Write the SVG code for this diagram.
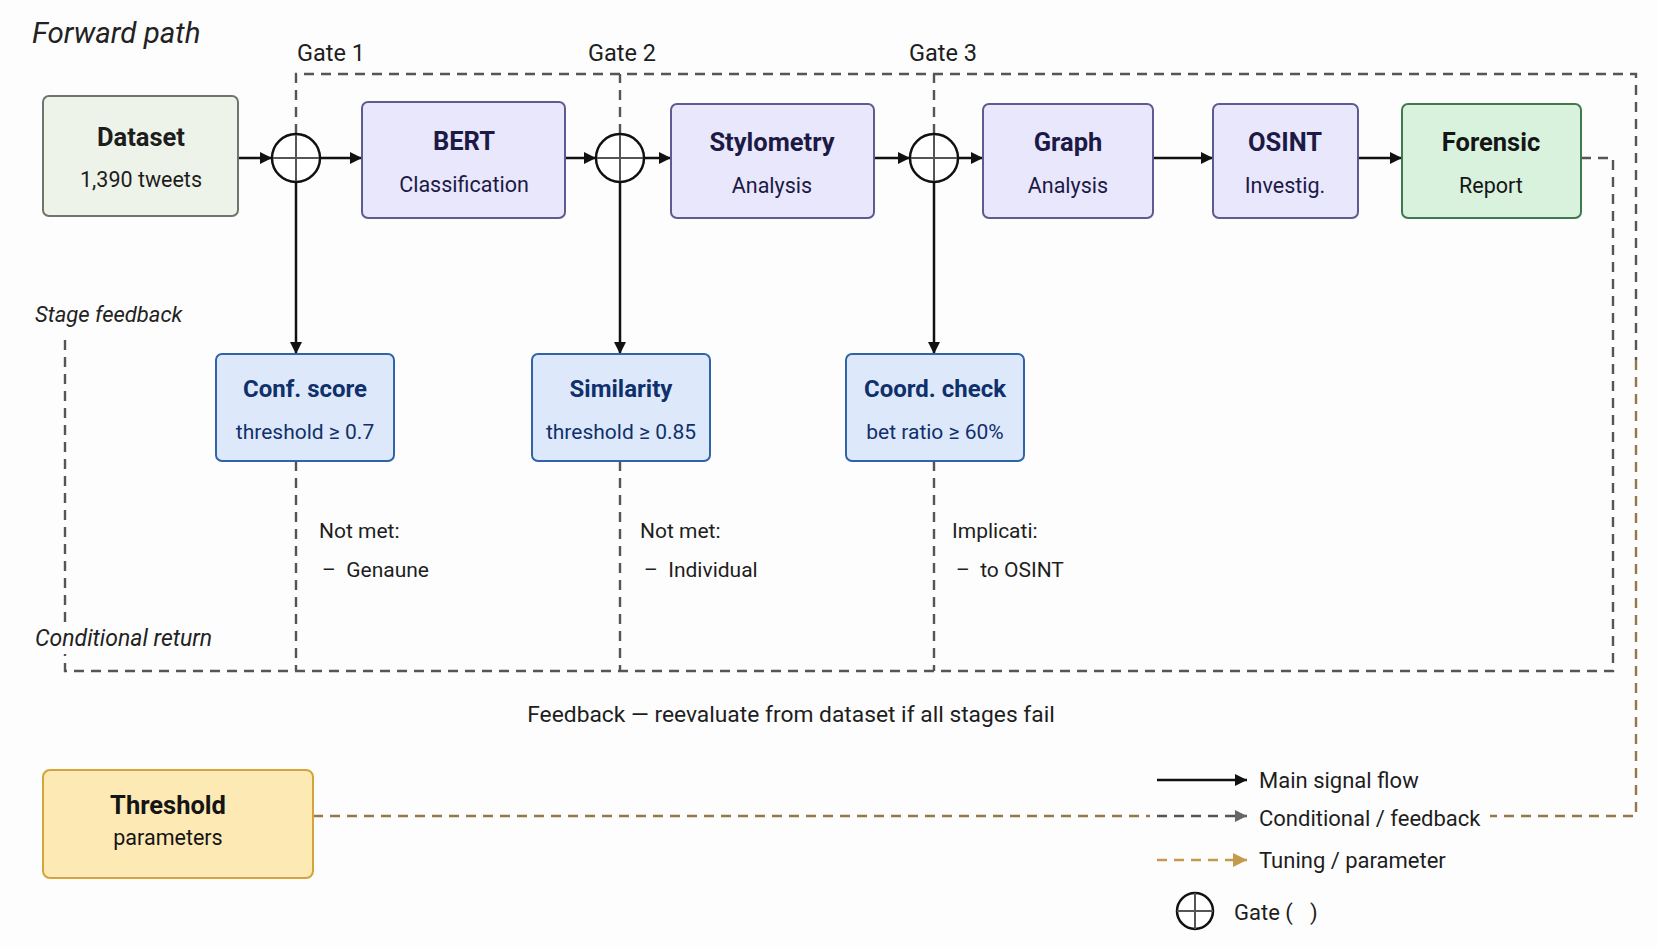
<svg xmlns="http://www.w3.org/2000/svg" width="1657" height="949" viewBox="0 0 1657 949">
<style>
text{font-family:Roboto,"Liberation Sans",sans-serif;}
.t{font-weight:700;font-size:25.5px;text-anchor:middle;}
.s{font-size:21.5px;text-anchor:middle;}
.ct{font-weight:700;font-size:24px;text-anchor:middle;fill:#10306b;}
.cs{font-size:21px;text-anchor:middle;fill:#10306b;}
.lbl{font-size:21px;fill:#1e1e1e;}
.gl{font-size:23.5px;fill:#1e1e1e;}
.fb{font-size:22.8px;fill:#1e1e1e;text-anchor:middle;}
.lg{font-size:22px;fill:#1e1e1e;}
.it{font-style:italic;fill:#222;}
.main{fill:none;stroke:#111;stroke-width:2.5;}
.dash{fill:none;stroke:#555;stroke-width:2.4;stroke-dasharray:10 7;}
.brown{fill:none;stroke:#94774a;stroke-width:2.4;stroke-dasharray:10 7;}
.gold{fill:none;stroke:#c59a4d;stroke-width:2.4;stroke-dasharray:10 7;}
.purple rect{fill:#e9e7fb;stroke:#5e5a92;stroke-width:2;}
.purple text.t{fill:#1c1a45;}
.purple text.s{fill:#1c1a45;}
.check rect{fill:#dde9fb;stroke:#2f64a8;stroke-width:2;}
.gate circle{fill:#fff;stroke:#111;stroke-width:2.5;}
.gate line{stroke:#555;stroke-width:2;}
</style>
<defs>
<marker id="ah" viewBox="0 0 10 10" refX="10" refY="5" markerWidth="5" markerHeight="5" orient="auto" markerUnits="strokeWidth"><path d="M0,0 L10,5 L0,10 Z" fill="#111"/></marker>
<marker id="ahg" viewBox="0 0 10 10" refX="10" refY="5" markerWidth="5" markerHeight="5" orient="auto" markerUnits="strokeWidth"><path d="M0,0 L10,5 L0,10 Z" fill="#666"/></marker>
<marker id="ahy" viewBox="0 0 10 10" refX="10" refY="5" markerWidth="6" markerHeight="6" orient="auto" markerUnits="strokeWidth"><path d="M0,0 L10,5 L0,10 Z" fill="#c59a4d"/></marker>
<marker id="tiny" viewBox="0 0 10 10" refX="10" refY="5" markerWidth="3" markerHeight="3" orient="auto" markerUnits="strokeWidth"><path d="M0,0 L10,5 L0,10 Z" fill="#555"/></marker>
</defs>
<rect width="1657" height="949" fill="#fdfdfd"/>

<text class="it" x="32" y="43" font-size="29.5">Forward path</text>
<text class="it" x="35" y="322" font-size="22">Stage feedback</text>
<text class="gl" x="297" y="61">Gate 1</text>
<text class="gl" x="588" y="61">Gate 2</text>
<text class="gl" x="909" y="61">Gate 3</text>

<g id="connectors">
  <!-- top feedback loop -->
  <path class="dash" d="M296,134 V74 H1636 V360" marker-start="url(#tiny)"/>
  <path class="dash" d="M620,134 V74"/>
  <path class="dash" d="M934,134 V74"/>
  <path class="brown" d="M1636,360 V816 H1490"/>
  <path class="brown" d="M313,816 H1150"/>
  <!-- bottom feedback loop -->
  <path class="dash" d="M1581,158 H1613 V671 H65 V338"/>
  <path class="dash" d="M296,461 V671" marker-start="url(#tiny)"/>
  <path class="dash" d="M620,461 V671" marker-start="url(#tiny)"/>
  <path class="dash" d="M934,461 V671" marker-start="url(#tiny)"/>
  <!-- main flow -->
  <path class="main" d="M238,158 H272" marker-end="url(#ah)"/>
  <path class="main" d="M320,158 H362" marker-end="url(#ah)"/>
  <path class="main" d="M565,158 H596" marker-end="url(#ah)"/>
  <path class="main" d="M644,158 H671" marker-end="url(#ah)"/>
  <path class="main" d="M874,158 H910" marker-end="url(#ah)"/>
  <path class="main" d="M958,158 H983" marker-end="url(#ah)"/>
  <path class="main" d="M1153,158 H1213" marker-end="url(#ah)"/>
  <path class="main" d="M1358,158 H1402" marker-end="url(#ah)"/>
  <path class="main" d="M296,182 V354" marker-end="url(#ah)"/>
  <path class="main" d="M620,182 V354" marker-end="url(#ah)"/>
  <path class="main" d="M934,182 V354" marker-end="url(#ah)"/>
</g>

<rect x="30" y="622" width="190" height="32" fill="#fdfdfd"/>
<text class="it" x="35" y="646" font-size="23">Conditional return</text>

<g id="dataset">
  <rect x="43" y="96" width="195" height="120" rx="6" fill="#eef3e9" stroke="#6f756c" stroke-width="2"/>
  <text class="t" x="141" y="146" fill="#1d1d1d">Dataset</text>
  <text class="s" x="141" y="187" fill="#1d1d1d">1,390 tweets</text>
</g>
<g id="gate1" class="gate"><circle cx="296" cy="158" r="24"/><line x1="273" y1="158" x2="319" y2="158"/><line x1="296" y1="135" x2="296" y2="181"/></g>
<g id="gate2" class="gate"><circle cx="620" cy="158" r="24"/><line x1="597" y1="158" x2="643" y2="158"/><line x1="620" y1="135" x2="620" y2="181"/></g>
<g id="gate3" class="gate"><circle cx="934" cy="158" r="24"/><line x1="911" y1="158" x2="957" y2="158"/><line x1="934" y1="135" x2="934" y2="181"/></g>
<g id="bert" class="purple">
  <rect x="362" y="102" width="203" height="116" rx="6"/>
  <text class="t" x="464" y="150">BERT</text>
  <text class="s" x="464" y="192">Classification</text>
</g>
<g id="stylometry" class="purple">
  <rect x="671" y="104" width="203" height="114" rx="6"/>
  <text class="t" x="772" y="151">Stylometry</text>
  <text class="s" x="772" y="193">Analysis</text>
</g>
<g id="graph" class="purple">
  <rect x="983" y="104" width="170" height="114" rx="6"/>
  <text class="t" x="1068" y="151">Graph</text>
  <text class="s" x="1068" y="193">Analysis</text>
</g>
<g id="osint" class="purple">
  <rect x="1213" y="104" width="145" height="114" rx="6"/>
  <text class="t" x="1285" y="151">OSINT</text>
  <text class="s" x="1285" y="193">Investig.</text>
</g>
<g id="forensic">
  <rect x="1402" y="104" width="179" height="114" rx="6" fill="#d8f2de" stroke="#3e7a4c" stroke-width="2"/>
  <text class="t" x="1491" y="151" fill="#151515">Forensic</text>
  <text class="s" x="1491" y="193" fill="#151515">Report</text>
</g>

<g id="confscore" class="check">
  <rect x="216" y="354" width="178" height="107" rx="6"/>
  <text class="ct" x="305" y="397">Conf. score</text>
  <text class="cs" x="305" y="439">threshold ≥ 0.7</text>
</g>
<g id="similarity" class="check">
  <rect x="532" y="354" width="178" height="107" rx="6"/>
  <text class="ct" x="621" y="397">Similarity</text>
  <text class="cs" x="621" y="439">threshold ≥ 0.85</text>
</g>
<g id="coordcheck" class="check">
  <rect x="846" y="354" width="178" height="107" rx="6"/>
  <text class="ct" x="935" y="397">Coord. check</text>
  <text class="cs" x="935" y="439">bet ratio ≥ 60%</text>
</g>

<g id="notes">
  <text class="lbl" x="319" y="538">Not met:</text>
  <text class="lbl" x="322" y="577" xml:space="preserve">–  Genaune</text>
  <text class="lbl" x="640" y="538">Not met:</text>
  <text class="lbl" x="644" y="577" xml:space="preserve">–  Individual</text>
  <text class="lbl" x="952" y="538">Implicati:</text>
  <text class="lbl" x="956" y="577" xml:space="preserve">–  to OSINT</text>
  <text class="fb" x="791" y="722">Feedback — reevaluate from dataset if all stages fail</text>
</g>

<g id="threshold">
  <rect x="43" y="770" width="270" height="108" rx="7" fill="#fde9b4" stroke="#d2a43c" stroke-width="2"/>
  <text class="t" x="168" y="814" fill="#151515">Threshold</text>
  <text class="s" x="168" y="845" fill="#151515">parameters</text>
</g>

<g id="legend">
  <path class="main" d="M1157,780 H1247" marker-end="url(#ah)"/>
  <text class="lg" x="1259" y="788">Main signal flow</text>
  <path class="dash" d="M1157,816 H1247" marker-end="url(#ahg)"/>
  <text class="lg" x="1259" y="826">Conditional / feedback</text>
  <path class="gold" d="M1157,860 H1247" marker-end="url(#ahy)"/>
  <text class="lg" x="1259" y="868">Tuning / parameter</text>
  <g class="gate"><circle cx="1195" cy="911" r="18"/><line x1="1177" y1="911" x2="1213" y2="911" stroke="#111"/><line x1="1195" y1="893" x2="1195" y2="929" stroke="#111"/></g>
  <text class="lg" x="1234" y="920">Gate (</text>
  <text class="lg" x="1310" y="920">)</text>
</g>
</svg>
